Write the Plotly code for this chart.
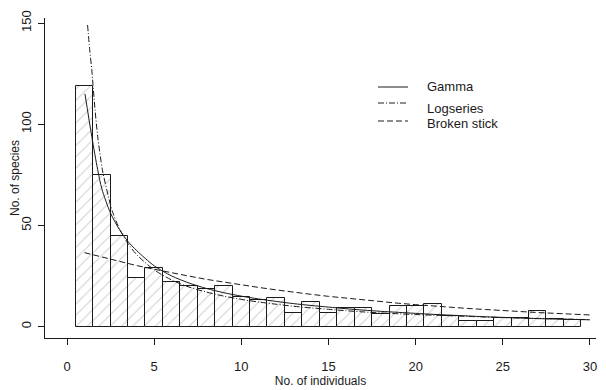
import plotly.graph_objects as go

# ---- data ----
bar_x = list(range(1, 30))
bar_counts = [119, 75, 44.5, 24, 29, 22, 20, 18.5, 20, 14.5,
              13, 14, 6.5, 12, 6.5, 9, 9, 6, 10, 10,
              11, 5, 2.5, 2.5, 4, 4, 7.5, 3.5, 3]

gamma_x = [1.03, 1.42, 1.76, 2.0, 2.5, 3, 3.5, 4, 5, 6, 7, 8, 9, 10, 11, 12, 13, 14, 15,
           16, 17, 18, 19, 20, 21, 22, 23, 24, 25, 26, 27, 28, 29, 30]
gamma_y = [115, 94, 77.5, 68, 56, 48, 42, 37.5, 30, 25, 21.5, 18.8, 16.7, 15, 13.6, 12.4,
           11.3, 10.4, 9.6, 8.8, 8.1, 7.5, 7.0, 6.5, 6.0, 5.6, 5.2, 4.8, 4.5, 4.2, 3.9,
           3.7, 3.5, 3.3]

logser_x = [1.18, 1.3, 1.42, 1.6, 1.76, 2.03, 2.28, 2.6, 3, 3.5, 4, 5, 6, 7, 8, 9, 10, 11,
            12, 13, 14, 15, 16, 17, 18, 19, 20, 21, 22, 23, 24, 25, 26, 27, 28, 29, 30]
logser_y = [149, 137, 127, 108, 94, 77.5, 67.6, 57, 48.5, 41, 35.5, 28, 23, 19.5, 17, 15,
            13.4, 12.1, 11, 10, 9.2, 8.5, 7.8, 7.2, 6.7, 6.3, 5.9, 5.6, 5.3, 5.0, 4.7, 4.4,
            4.2, 4.0, 3.8, 3.6, 3.4]

bstick_x = list(range(1, 31))
bstick_y = [36.5, 34.3, 32.1, 30.1, 28.3, 26.5, 24.9, 23.3, 21.9, 20.5, 19.3, 18.1, 16.9,
            15.9, 14.9, 14.0, 13.1, 12.3, 11.5, 10.8, 10.1, 9.5, 8.9, 8.4, 7.8, 7.3, 6.9,
            6.5, 6.1, 5.7]

x_ticks = [0, 5, 10, 15, 20, 25, 30]
y_ticks = [0, 50, 100, 150]
legend_names = ["Gamma", "Logseries", "Broken stick"]

FONT = "Liberation Sans, Arial, sans-serif"
INK = "#1a1a1a"

fig = go.Figure()
fig.add_trace(go.Bar(
    x=bar_x, y=bar_counts, width=1,
    marker=dict(color="white", line=dict(color=INK, width=1),
                pattern=dict(shape="/", fgcolor="#9a9a9a", bgcolor="white",
                             size=8, solidity=0.12)),
    showlegend=False, hoverinfo="skip"))
fig.add_trace(go.Scatter(x=gamma_x, y=gamma_y, mode="lines",
                         line=dict(color=INK, width=1, shape="spline", smoothing=0.8),
                         showlegend=False))
fig.add_trace(go.Scatter(x=logser_x, y=logser_y, mode="lines",
                         line=dict(color=INK, width=1, shape="spline", smoothing=0.8,
                                   dash="6px,2px,1px,2px"),
                         showlegend=False))
fig.add_trace(go.Scatter(x=bstick_x, y=bstick_y, mode="lines",
                         line=dict(color=INK, width=1, dash="6px,3px"),
                         showlegend=False))

# the page body has an 8px margin, so figure pixels = screen pixels - 8
OFF = 8
L, R, T, B = 45 - OFF, 596 - OFF, 18 - OFF, 338 - OFF
W, H = 606 - OFF, 390 - OFF


def px2p(px, py):
    return (px - OFF - L) / (R - L), (B - (py - OFF)) / (B - T)


# manual legend (screen pixel positions)
leg_lines_y = [87, 103, 121]
leg_text_y = [87, 108, 123]
dashes = ["solid", "6px,2px,1px,2px", "6px,3px"]
for name, ly, ty, d in zip(legend_names, leg_lines_y, leg_text_y, dashes):
    x0, y0 = px2p(378, ly)
    x1, _ = px2p(408, ly)
    fig.add_shape(type="line", xref="paper", yref="paper", x0=x0, x1=x1, y0=y0, y1=y0,
                  line=dict(color=INK, width=1, dash=d))
    tx, tyy = px2p(425, ty)
    fig.add_annotation(xref="paper", yref="paper", x=tx, y=tyy, text=name,
                       showarrow=False, xanchor="left", yanchor="middle",
                       font=dict(family=FONT, size=13, color=INK))

xpp = 17.433
x0px = 67 - OFF
ypp = 2.0233
y0px = 326.5 - OFF

fig.update_layout(
    width=W, height=H,
    margin=dict(l=L, r=W - R, t=T, b=H - B),
    paper_bgcolor="white", plot_bgcolor="white",
    font=dict(family=FONT, size=13, color=INK),
    bargap=0,
    xaxis=dict(range=[-(x0px - L) / xpp, (R - x0px) / xpp], automargin=False,
               tickvals=x_ticks, ticks="outside", ticklen=6, tickcolor=INK,
               showline=True, linecolor=INK, linewidth=1, showgrid=False, zeroline=False,
               ticklabelstandoff=10,
               title=dict(text="No. of individuals", font=dict(size=12), standoff=2)),
    yaxis=dict(range=[-(B - y0px) / ypp, (y0px - T) / ypp], automargin=False,
               tickvals=y_ticks, ticks="outside", ticklen=6, tickcolor=INK, tickangle=-90,
               showline=True, linecolor=INK, linewidth=1, showgrid=False, zeroline=False,
               ticklabelstandoff=2,
               title=dict(text="No. of species", font=dict(size=12), standoff=1)),
)

fig.write_html("out.html")
